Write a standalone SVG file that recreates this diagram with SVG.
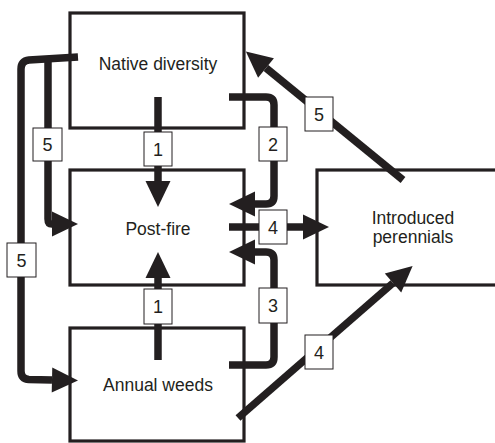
<svg xmlns="http://www.w3.org/2000/svg" width="495" height="443" viewBox="0 0 495 443">
<style>
.box{fill:#fff;stroke:#231f20;stroke-width:3.2}
.nt{font-family:"Liberation Sans",Arial,sans-serif;font-size:17.5px;fill:#231f20;text-anchor:middle}
.ln{fill:none;stroke:#231f20;stroke-width:7.5;marker-end:url(#ah)}
.lb{fill:#fff;stroke:#231f20;stroke-width:1}
.lt{font-family:"Liberation Sans",Arial,sans-serif;font-size:18px;fill:#231f20;text-anchor:middle}
</style>
<defs>
<marker id="ah" markerUnits="userSpaceOnUse" markerWidth="27" markerHeight="26" refX="0" refY="12.5" orient="auto" overflow="visible">
<path d="M0,0 L26,12.5 L0,25 z" fill="#231f20"/>
</marker>
</defs>
<g id="native"><rect class="box" x="70" y="13" width="174" height="115"/><text class="nt" x="158" y="70">Native diversity</text></g>
<g id="postfire"><rect class="box" x="70" y="170" width="174" height="115"/><text class="nt" x="158" y="235">Post-fire</text></g>
<g id="annual"><rect class="box" x="70" y="328" width="174" height="113"/><text class="nt" x="158" y="391">Annual weeds</text></g>
<g id="introduced"><rect class="box" x="317" y="170" width="190" height="115"/><text class="nt" x="413" y="224">Introduced</text><text class="nt" x="413" y="243">perennials</text></g>
<g id="connectors">
<path class="ln" d="M158,97 L158,181"/>
<path class="ln" d="M158,360 L158,278"/>
<path class="ln" d="M229,97 L266,97 Q274,97 274,105 L274,196 Q274,204 266,204 L255,204"/>
<path class="ln" d="M229,365 L266,365 Q274,365 274,357 L274,260 Q274,252 266,252 L255,252"/>
<path class="ln" d="M229,227 L303,227"/>
<path class="ln" d="M403,180 L266,68"/>
<path class="ln" d="M238,418 L393,283"/>
<path class="ln" d="M78,57 L29,60 Q21,61 21,69 L21,371 Q21,379 29,379.5 L52,380"/>
<path class="ln" d="M48,59 L48,219 Q48,224 52,224"/>
<g id="labels">
<rect class="lb" x="144" y="132" width="28" height="34"/><text class="lt" x="158" y="155.5">1</text>
<rect class="lb" x="144" y="289" width="28" height="35"/><text class="lt" x="158" y="313">1</text>
<rect class="lb" x="259" y="127" width="28" height="34"/><text class="lt" x="273" y="150.5">2</text>
<rect class="lb" x="259" y="288" width="28" height="35"/><text class="lt" x="273" y="312">3</text>
<rect class="lb" x="259" y="210" width="28" height="34"/><text class="lt" x="273" y="233.5">4</text>
<rect class="lb" x="305" y="335" width="28" height="34"/><text class="lt" x="319" y="358.5">4</text>
<rect class="lb" x="305" y="97" width="28" height="34"/><text class="lt" x="319" y="120.5">5</text>
<rect class="lb" x="33" y="128" width="29" height="33"/><text class="lt" x="47.5" y="151">5</text>
<rect class="lb" x="7" y="243" width="29" height="34"/><text class="lt" x="21.5" y="266.5">5</text>
</g>
</g>
</svg>
